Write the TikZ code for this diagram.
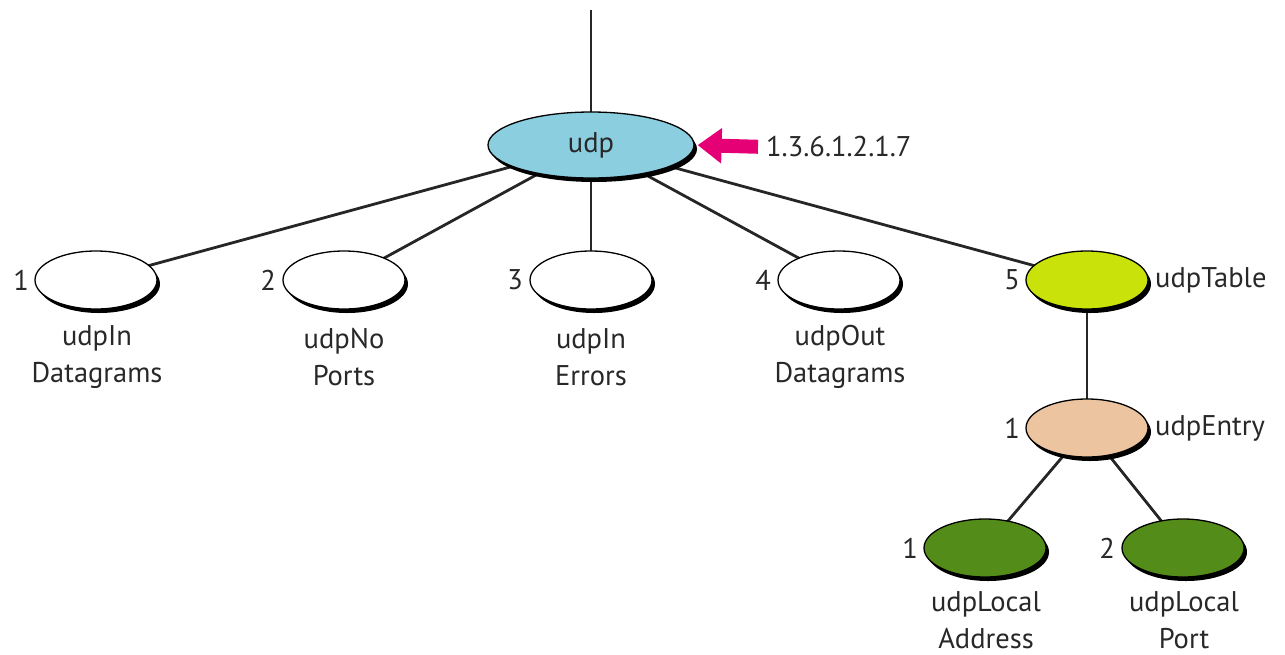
\documentclass[tikz,border=0pt]{standalone}
\usepackage{fontspec}
\setmainfont{PT Sans}
\usetikzlibrary{shapes.geometric,shadows,arrows.meta}
\definecolor{udpblue}{RGB}{138,206,224}
\definecolor{tablelime}{RGB}{200,226,10}
\definecolor{entrytan}{RGB}{236,196,160}
\definecolor{leafgreen}{RGB}{84,140,26}
\definecolor{oidpink}{RGB}{230,0,118}
\definecolor{ink}{RGB}{40,40,40}
\pgfdeclarelayer{bg}
\pgfsetlayers{bg,main}
\begin{document}
\begin{tikzpicture}[x=1pt,y=-1pt,
  font=\fontsize{28.5}{37}\selectfont, text=ink,
  obj/.style={ellipse, draw=black, line width=1.3pt, fill=white,
    minimum width=122pt, minimum height=58pt, inner sep=0pt,
    drop shadow={shadow xshift=3pt, shadow yshift=-4pt, fill=black, opacity=1}},
  num/.style={anchor=east, inner sep=0pt},
  tag/.style={anchor=west, inner sep=0pt},
  caption/.style={align=center, inner sep=0pt},
  link/.style={line width=2.8pt, draw=black!85}]
\useasboundingbox (0,0) rectangle (1285,654);

% root of the UDP group
\coordinate (up) at (591,10);
\node[obj, fill=udpblue, minimum width=206pt, minimum height=66pt] (udp) at (591,145) {udp};
\node[tag] (oid) at (766,147) {1.3.6.1.2.1.7};

% scalar objects
\node[obj] (o1) at (96,280) {};
\node[obj] (o2) at (344,280) {};
\node[obj] (o3) at (591,280) {};
\node[obj] (o4) at (839,280) {};
\node[obj, fill=tablelime] (o5) at (1087,280) {};

\node[num] (n1) at (29,280) {1};
\node[num] (n2) at (276,280) {2};
\node[num] (n3) at (523,280) {3};
\node[num] (n4) at (771,280) {4};
\node[num] (n5) at (1020,280) {5};

\node[caption] (c1) at (97,357) {udpIn\\Datagrams};
\node[caption] (c2) at (344,357) {udpNo\\Ports};
\node[caption] (c3) at (591,357) {udpIn\\Errors};
\node[caption] (c4) at (840,357) {udpOut\\Datagrams};
\node[tag] (t5) at (1155,280) {udpTable};

% table entry and its columns
\node[obj, fill=entrytan] (e) at (1087,428) {};
\node[num] (ne) at (1020,428) {1};
\node[tag] (te) at (1155,428) {udpEntry};

\node[obj, fill=leafgreen] (l1) at (985,548) {};
\node[obj, fill=leafgreen] (l2) at (1183,548) {};
\node[num] (nl1) at (918,548) {1};
\node[num] (nl2) at (1115,548) {2};
\node[caption] (cl1) at (986,620) {udpLocal\\Address};
\node[caption] (cl2) at (1184,620) {udpLocal\\Port};

% tree links, kept behind the ellipses
\begin{pgfonlayer}{bg}
  \draw[link] (up) -- (udp.center);
  \foreach \k in {o1,o2,o3,o4,o5} \draw[link] (udp.center) -- (\k.center);
  \draw[link] (o5.center) -- (e.center);
  \draw[link] (e.center) -- (l1.center);
  \draw[link] (e.center) -- (l2.center);
\end{pgfonlayer}

% object identifier pointer
\draw[oidpink, line width=14pt, -{Triangle[width=34pt,length=24pt]}, shorten <=8pt, shorten >=3pt]
  (oid.west) -- (udp.east);
\end{tikzpicture}
\end{document}
